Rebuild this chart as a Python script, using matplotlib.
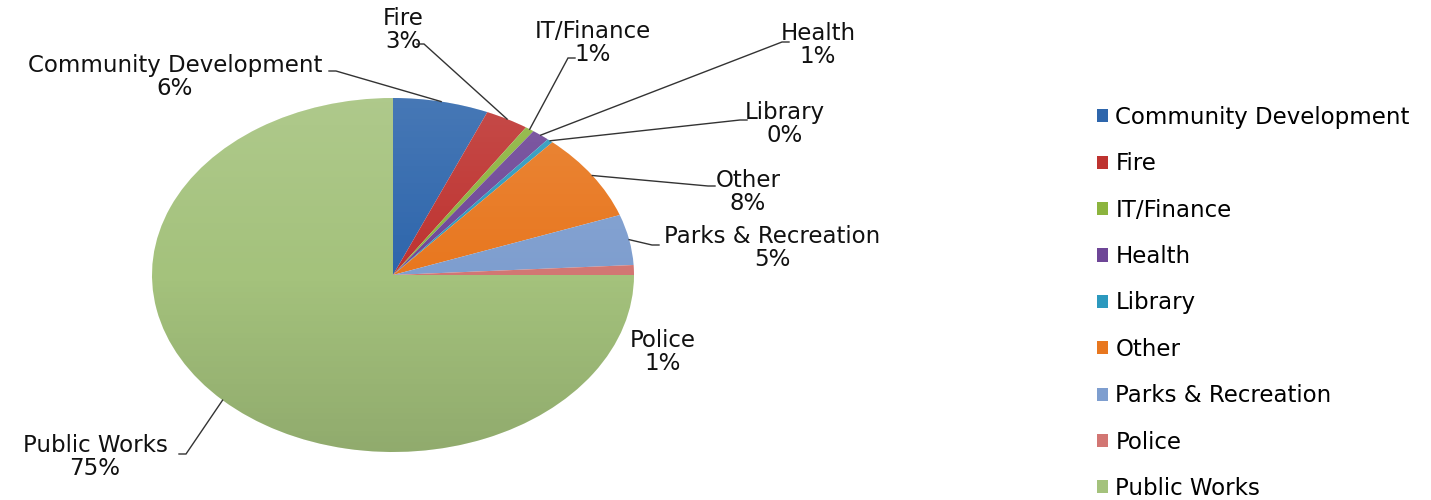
import numpy as np
import matplotlib
matplotlib.use("Agg")
import matplotlib.pyplot as plt
from matplotlib.patches import Circle

# === Data ===
departments = ["Community Development", "Fire", "IT/Finance", "Health", "Library",
               "Other", "Parks & Recreation", "Police", "Public Works"]
shares = [6.4, 2.9, 0.6, 1.2, 0.4, 8.0, 4.6, 0.9, 75.0]
colors = ["#2E66AC", "#BE3330", "#8CB43E", "#6E4697", "#2C99BE",
          "#E8771F", "#7E9ECF", "#D27673", "#A4C27C"]

# label centre (pixels) and leader-line end (pixels, None = no line)
label_pos = [(175, 77), (403, 30), (593, 43), (818, 45), (785, 124),
             (748, 192), (772, 248), (663, 352), (95, 457)]
leader_end = [(336, 71), (424, 44), (568, 58), (782, 42), (740, 120),
              (708, 186), (652, 245), None, (186, 454)]

# === Layout (pixels in a 1431x500 canvas) ===
W, H = 1431, 500
CX, CY, RX, RY = 393, 275, 241, 177
FONT = "DejaVu Sans"
FS = 16.5


def px(x, y):
    return (x - CX) / RX, (CY - y) / RY


fig = plt.figure(figsize=(W / 100, H / 100), dpi=100)
ax = fig.add_axes([0, 0, 1, 1])

wedges, _ = ax.pie(shares, colors=colors, startangle=90, counterclock=False,
                   radius=1, center=(0, 0), wedgeprops=dict(linewidth=0))

# soft top-light / bottom-dark shading like the original Excel pie
t = np.linspace(0, 1, 256)[:, None]
shade = np.zeros((256, 2, 4))
shade[..., :3] = np.where(t < 0.5, 1.0, 0.0)[..., None]
shade[..., 3] = (np.abs(t - 0.5) * 2 * 0.12) * np.ones((1, 2))
img = ax.imshow(shade, extent=(-1, 1, -1, 1), origin="upper", aspect="auto",
                zorder=3, interpolation="bilinear")
img.set_clip_path(Circle((0, 0), 1, transform=ax.transData))

ax.set_aspect("auto")
ax.set_xlim(-CX / RX, (W - CX) / RX)
ax.set_ylim((CY - H) / RY, CY / RY)
ax.axis("off")

# === Labels with leader lines ===
for w, name, val, pos, end in zip(wedges, departments, shares, label_pos, leader_end):
    tx, ty = px(*pos)
    ax.text(tx, ty, f"{name}\n{round(val)}%", ha="center", va="center",
            multialignment="center", fontsize=FS, family=FONT,
            linespacing=1.0, color="#111111")
    if end is None:
        continue
    mid = np.deg2rad((w.theta1 + w.theta2) / 2)
    ax0, ay0 = np.cos(mid), np.sin(mid)
    ex, ey = px(*end)
    # short horizontal tick toward the label
    hx = ex + (7 if pos[0] > end[0] else -7) / RX
    ax.plot([ax0, ex, hx], [ay0, ey, ey], color="#333333", lw=1.0,
            solid_joinstyle="miter", zorder=4)

# === Legend ===
leg = fig.legend(wedges, departments, loc="center left",
                 bbox_to_anchor=(1097 / W, 1 - 303 / H), frameon=False,
                 prop={"family": FONT, "size": FS}, handlelength=0.5,
                 handleheight=0.5, handletextpad=0.3, labelspacing=1.02,
                 borderpad=0, borderaxespad=0)

fig.savefig("out.png", dpi=100)
